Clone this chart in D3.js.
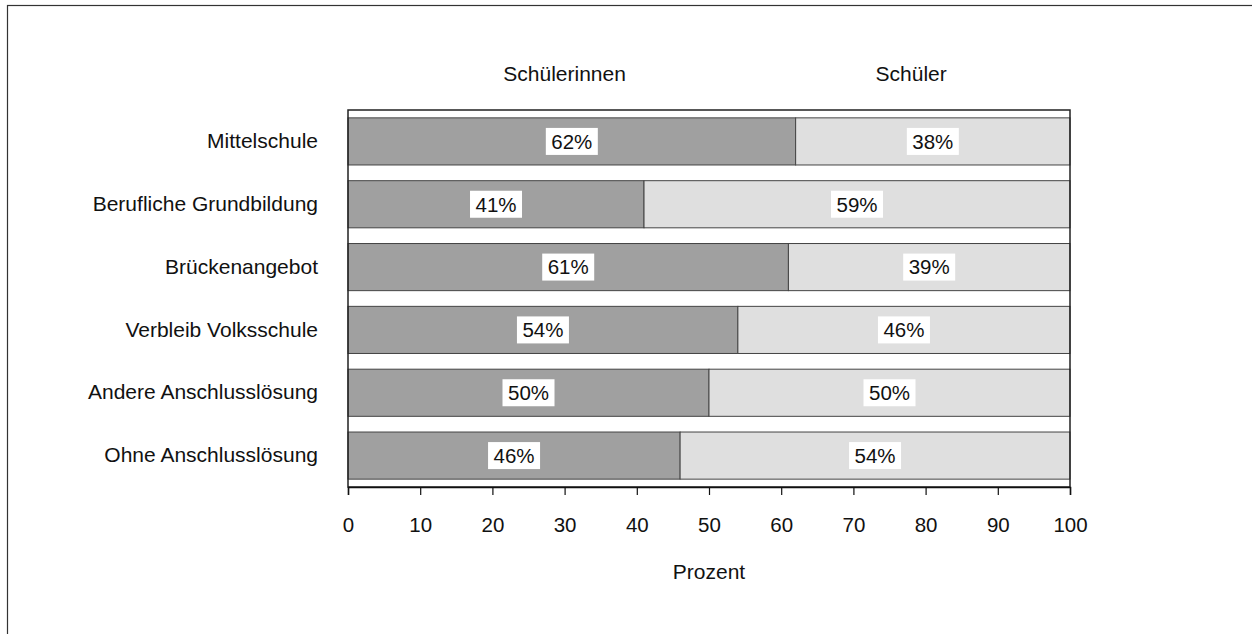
<!DOCTYPE html>
<html>
<head>
<meta charset="utf-8">
<script src="https://cdn.jsdelivr.net/npm/d3@7"></script>
<style>
  html, body { margin: 0; padding: 0; background: #fff; }
  svg { display: block; font-family: "Liberation Sans", Arial, sans-serif; }
</style>
</head>
<body>
<svg id="chart" width="1252" height="634"></svg>
<script>
// Anteile von Schülerinnen und Schülern je Anschlusslösung (Prozent)
const categories = [
  "Mittelschule",
  "Berufliche Grundbildung",
  "Brückenangebot",
  "Verbleib Volksschule",
  "Andere Anschlusslösung",
  "Ohne Anschlusslösung"
];
const schuelerinnen = [62, 41, 61, 54, 50, 46];
const schueler = [38, 59, 39, 46, 50, 54];
const seriesNames = ["Schülerinnen", "Schüler"];
const seriesColors = ["#a0a0a0", "#dfdfdf"];
const xTicks = [0, 10, 20, 30, 40, 50, 60, 70, 80, 90, 100];
const xTitle = "Prozent";

const svg = d3.select("#chart");
const W = 1252, H = 634;
const margin = { left: 348, right: 1252 - 1070, top: 110, bottom: 634 - 487 };
const FS = 20.5;

// outer frame (cut at right and bottom edges)
svg.append("rect")
  .attr("x", 7.5).attr("y", 5.5)
  .attr("width", W).attr("height", H)
  .attr("fill", "none").attr("stroke", "#333").attr("stroke-width", 1.2);

const x = d3.scaleLinear().domain([0, 100]).range([margin.left, W - margin.right]);
const y = d3.scaleBand().domain(categories)
  .range([margin.top, H - margin.bottom])
  .paddingInner(0.25).paddingOuter(0.125);

const rows = categories.map((c, i) => ({ cat: c, vals: [schuelerinnen[i], schueler[i]] }));
const stacked = [];
rows.forEach(r => {
  let acc = 0;
  r.vals.forEach((v, s) => {
    stacked.push({ cat: r.cat, s, x0: acc, x1: acc + v, v });
    acc += v;
  });
});

// bars
svg.append("g").selectAll("rect").data(stacked).join("rect")
  .attr("x", d => x(d.x0))
  .attr("y", d => y(d.cat))
  .attr("width", d => x(d.x1) - x(d.x0))
  .attr("height", y.bandwidth())
  .attr("fill", d => seriesColors[d.s])
  .attr("stroke", "#444").attr("stroke-width", 1);

// plot frame
svg.append("rect")
  .attr("x", x(0)).attr("y", margin.top)
  .attr("width", x(100) - x(0)).attr("height", H - margin.bottom - margin.top)
  .attr("fill", "none").attr("stroke", "#222").attr("stroke-width", 1.5);

// value labels on white boxes
const lbl = svg.append("g").selectAll("g").data(stacked).join("g")
  .attr("transform", d => `translate(${x((d.x0 + d.x1) / 2)},${y(d.cat) + y.bandwidth() / 2})`);
lbl.append("rect")
  .attr("x", -26).attr("y", -13.5).attr("width", 52).attr("height", 27)
  .attr("fill", "#fff");
lbl.append("text")
  .attr("text-anchor", "middle").attr("dy", "0.36em")
  .attr("font-size", FS).attr("fill", "#111")
  .text(d => d.v + "%");

// category axis
const yAxis = svg.append("g")
  .attr("transform", `translate(${x(0)},0)`)
  .call(d3.axisLeft(y).tickSize(0).tickPadding(30));
yAxis.select(".domain").remove();
yAxis.selectAll("text").attr("font-size", 21).attr("fill", "#111")
  .style("font-family", "Liberation Sans, Arial, sans-serif");

// value axis
const xAxis = svg.append("g")
  .attr("transform", `translate(0,${H - margin.bottom})`)
  .call(d3.axisBottom(x).tickValues(xTicks).tickSize(8).tickPadding(22).tickFormat(d3.format("d")));
xAxis.select(".domain").attr("stroke", "#111").attr("stroke-width", 1.5);
xAxis.selectAll(".tick line").attr("stroke", "#111").attr("stroke-width", 1.2);
xAxis.selectAll("text").attr("font-size", FS).attr("fill", "#111")
  .style("font-family", "Liberation Sans, Arial, sans-serif");

// axis title
svg.append("text")
  .attr("x", x(50)).attr("y", 579)
  .attr("text-anchor", "middle").attr("font-size", 21).attr("fill", "#111")
  .text(xTitle);

// series headers above the bars
const headerPos = [30, 78];
svg.append("g").selectAll("text").data(seriesNames).join("text")
  .attr("x", (d, i) => x(headerPos[i]))
  .attr("y", 81)
  .attr("text-anchor", "middle").attr("font-size", 21).attr("fill", "#111")
  .text(d => d);
</script>
</body>
</html>
